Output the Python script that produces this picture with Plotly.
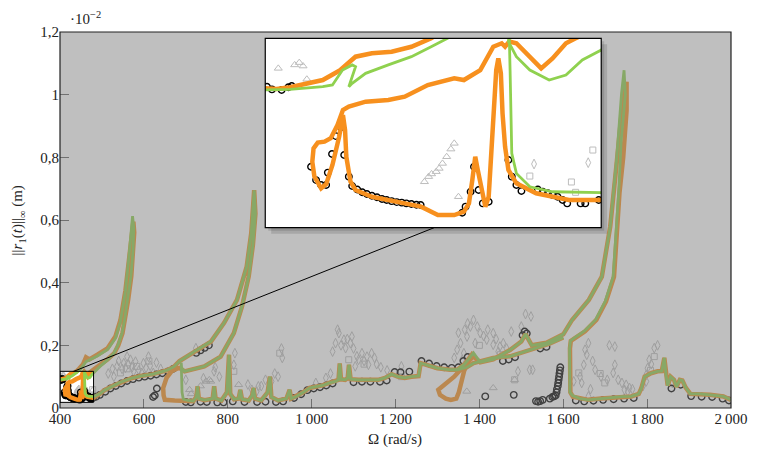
import plotly.graph_objects as go

# Omega in rad/s, amplitude in units of 1e-2 m

# green branch: start (inset zone), tongue 1, jump back to the low branch
g_start_x = [400.0, 405.9, 413.7, 416.0, 418.4, 420.7, 421.5, 419.9, 420.7, 423.9,
             429.3, 434.8, 439.5, 443.4, 450, 462, 489, 513, 532, 544,
             556, 564, 570, 573, 576, 574, 569, 561.5, 555, 548,
             538, 528.5, 512, 495, 485, 480, 475.5, 471.6, 467.6, 463.0,
             459.8, 457.9, 458.1, 458.3, 458.7, 459.8, 463.0, 468.4, 480]
g_start_y = [0.0900, 0.0903, 0.0917, 0.0926, 0.1004, 0.1031, 0.1022, 0.0917, 0.0935, 0.0987,
             0.1031, 0.1074, 0.1126, 0.117, 0.126, 0.148, 0.166, 0.186, 0.222, 0.275,
             0.372, 0.478, 0.572, 0.612, 0.575, 0.5, 0.42, 0.345, 0.29, 0.239,
             0.2, 0.175, 0.152, 0.132, 0.12, 0.1109, 0.1057, 0.0978, 0.0952, 0.1004,
             0.1074, 0.1153, 0.119, 0.1, 0.0569, 0.0464, 0.0394, 0.0368, 0.0363]

# orange branch: start, tongue 1, loop seen in the zoom
o_start_x = [400.0, 402.7, 405.9, 409.8, 413.7, 417.6, 421.5, 425.4, 430.1, 434.8, 439.5, 446,
             455, 462, 470, 489, 513, 532, 544, 556, 564, 570, 575, 577, 575, 570, 562.5,
             556, 549, 539, 529.5, 513, 496, 486, 480,
             476.2, 473.9, 471.6, 468.4, 465.7, 463.0, 459.8, 458.1, 457.1, 456.3, 454.3,
             451.2, 447.3, 445.0, 438.7, 433.2, 429.3, 423.9, 419.9,
             418.5, 417.2, 415.6, 414.1, 412.5, 411.5, 411.2, 411.7, 413.3, 414.5, 416.0, 417.6, 418.5,
             419.0, 419.3, 420.3, 421.5,
             425.4, 433.2, 437.1, 441.1, 445.0, 447.3, 448.5, 449.3, 450.0, 450.6, 451.2, 452.4,
             453.2, 453.7, 454.3, 455.0, 455.5, 456.1, 456.5, 457.1, 457.9, 459.8, 464.5, 472.3, 480]
o_start_y = [0.0909, 0.0905, 0.0914, 0.0931, 0.0952, 0.1000, 0.1074, 0.1092, 0.1100, 0.1126, 0.1170, 0.126,
             0.14, 0.162, 0.155, 0.17, 0.19, 0.228, 0.28, 0.375, 0.475, 0.55, 0.595, 0.56, 0.5, 0.42, 0.345,
             0.29, 0.239, 0.2, 0.175, 0.155, 0.14, 0.13, 0.123,
             0.1196, 0.117, 0.1144, 0.1065, 0.1013, 0.1074, 0.1144, 0.1153, 0.1126, 0.1144, 0.1126,
             0.1004, 0.0952, 0.0961, 0.0926, 0.0865, 0.0848, 0.0839, 0.0813,
             0.0795, 0.0717, 0.0648, 0.0630, 0.0625, 0.0595, 0.0525, 0.0447, 0.0386, 0.0408, 0.0508, 0.0656, 0.0769,
             0.0691, 0.0551, 0.0420, 0.0377,
             0.0342, 0.0307, 0.0290, 0.0246, 0.0246, 0.0264, 0.0307, 0.0429, 0.0551, 0.0482, 0.0412, 0.0290,
             0.0342, 0.0516, 0.0778, 0.1004, 0.1065, 0.0987, 0.0778, 0.0604, 0.0482, 0.0412, 0.0360, 0.0325, 0.0325]

low_x = [495, 505, 525, 544, 570, 591, 622, 654, 672, 685]
low_y = [0.045, 0.056, 0.07, 0.082, 0.095, 0.102, 0.108, 0.12, 0.132, 0.15]

# tongue 2
t2_x = [700, 720, 760, 791, 822, 845, 856, 863, 866, 860, 850, 834, 814.5, 783, 744, 697]
t2_y = [0.162, 0.18, 0.212, 0.271, 0.345, 0.45, 0.558, 0.695, 0.62, 0.52, 0.42, 0.324, 0.239, 0.164, 0.133, 0.117]

g_drop_x = [690, 689, 690, 691, 694]
g_drop_y = [0.128, 0.145, 0.1, 0.05, 0.028]
o_hook_x = [685, 676, 666, 654, 646, 647, 650, 673.5]
o_hook_y = [0.128, 0.124, 0.117, 0.096, 0.064, 0.04, 0.026, 0.024]

base1_x = [705, 718, 725, 728, 731, 745, 764, 767.6, 771, 785,
           798, 803, 806, 815, 826, 830, 834, 850, 858, 861.6,
           865, 880, 895, 900.6, 904, 920, 940, 947.6, 951, 963,
           980, 995, 1010, 1026, 1042, 1057, 1064, 1067, 1070, 1080,
           1086, 1089, 1093, 1112, 1140, 1159, 1175, 1191, 1205, 1222,
           1238, 1255, 1260, 1280, 1300, 1330, 1347]
base1_y = [0.024, 0.022, 0.035, 0.069, 0.03, 0.025, 0.03, 0.069, 0.03, 0.024,
           0.05, 0.17, 0.045, 0.028, 0.03, 0.058, 0.028, 0.024, 0.04, 0.064,
           0.03, 0.024, 0.05, 0.10, 0.035, 0.024, 0.03, 0.058, 0.03, 0.037,
           0.05, 0.064, 0.068, 0.072, 0.08, 0.085, 0.09, 0.142, 0.092, 0.09,
           0.095, 0.138, 0.092, 0.09, 0.09, 0.09, 0.096, 0.108, 0.1, 0.096,
           0.1, 0.102, 0.143, 0.135, 0.127, 0.122, 0.122]

g_cross_x = [1365, 1386]
g_cross_y = [0.14, 0.176]
o_loop_x = [1365, 1386, 1378, 1360, 1340, 1318, 1302, 1306, 1320, 1332, 1345, 1351, 1357, 1364, 1375, 1386]
o_loop_y = [0.14, 0.178, 0.16, 0.13, 0.1, 0.075, 0.058, 0.042, 0.03, 0.026, 0.03, 0.05, 0.085, 0.12, 0.15, 0.165]

upper_x = [1402, 1433, 1473, 1500, 1510, 1525, 1560, 1600, 1621, 1661, 1692, 1712]
upper_y = [0.146, 0.155, 0.185, 0.212, 0.236, 0.2, 0.208, 0.235, 0.281, 0.345, 0.419, 0.579]

# tongue 3 top and return
g_t3_x = [1727, 1739, 1745, 1748, 1738, 1732, 1719, 1700, 1677, 1650, 1625, 1617, 1615, 1615, 1616, 1622]
g_t3_y = [0.791, 1.004, 1.078, 1.0, 0.85, 0.685, 0.419, 0.34, 0.281, 0.245, 0.222, 0.214, 0.19, 0.1, 0.05, 0.04]
o_t3_x = [1728, 1742, 1751, 1751, 1743, 1734, 1721, 1702, 1679, 1652, 1627, 1618, 1616, 1616, 1617, 1623]
o_t3_y = [0.79, 0.98, 1.041, 0.95, 0.8, 0.685, 0.419, 0.34, 0.281, 0.245, 0.222, 0.214, 0.19, 0.1, 0.05, 0.036]

base2_x = [1640, 1660, 1690, 1715, 1740, 1762, 1780, 1786, 1794, 1809, 1825, 1835, 1841,
           1845, 1849, 1856, 1864, 1870, 1878, 1884, 1892, 1903, 1925, 1950, 1982, 2000]
base2_y = [0.03, 0.026, 0.03, 0.032, 0.036, 0.037, 0.045, 0.062, 0.10, 0.111, 0.117, 0.118, 0.16,
           0.105, 0.072, 0.1, 0.09, 0.068, 0.09, 0.088, 0.065, 0.045, 0.045, 0.042, 0.037, 0.026]

lower_x = [1347, 1370, 1386, 1433, 1473, 1520, 1567, 1600]
lower_y = [0.122, 0.13, 0.143, 0.16, 0.165, 0.185, 0.205, 0.225]

# reference points (black circles)
circ_x = [400.4, 401.6, 403.9, 405.5, 406.3, 410.9, 412.1, 413.3, 414.5, 414.9, 415.9, 416.8, 418.0,
          418.8, 419.9, 420.7, 421.9, 423.1, 424.2, 425.4, 426.6, 427.8, 428.9, 430.1, 431.3, 432.5,
          433.6, 434.8, 436.0, 437.0, 446.9, 447.7, 448.9, 449.7, 450.8, 451.8, 453.2,
          457.9, 458.7, 459.8, 461.0, 464.9, 466.1, 467.3, 468.4, 469.6, 470.8, 471.9, 475.1, 476.2, 479.4,
          486, 495, 508, 520, 533, 546, 560, 574, 588, 602, 616, 630, 644, 658, 670,
          622, 626, 631, 725, 735, 745, 755,
          700, 712, 735, 750, 775, 790, 812, 840, 870, 890, 915, 932, 958, 975, 990, 1005, 1020, 1035, 1050,
          1100, 1120, 1140, 1163, 1179, 1198, 1212, 1233, 1262, 1280, 1298, 1316, 1334, 1350,
          1362, 1372, 1456, 1470, 1485, 1503, 1508, 1513, 1545, 1560,
          1414, 1482, 1535, 1540, 1545, 1551, 1568, 1574, 1578,
          1582, 1584, 1585, 1587, 1588, 1589, 1590, 1591, 1592, 1593,
          1630, 1650, 1672, 1695, 1720, 1745, 1768, 1858, 1880, 1905, 1930, 1955, 1980, 1995]
circ_y = [0.0917, 0.0903, 0.0900, 0.0914, 0.0921, 0.0499, 0.0429, 0.0403, 0.0403, 0.0468, 0.0565, 0.0659, 0.0705,
          0.0560, 0.0447, 0.0398, 0.0380, 0.0365, 0.0356, 0.0347, 0.0339, 0.0330, 0.0325, 0.0319, 0.0314, 0.0311,
          0.0307, 0.0304, 0.0300, 0.0299, 0.0258, 0.0290, 0.0368, 0.0499, 0.0377, 0.0307, 0.0316,
          0.0534, 0.0447, 0.0403, 0.0372, 0.0380, 0.0368, 0.0360, 0.0351, 0.0342, 0.0325, 0.0307, 0.0307, 0.0307, 0.0325,
          0.036, 0.042, 0.052, 0.062, 0.07, 0.078, 0.086, 0.092, 0.097, 0.1, 0.103, 0.107, 0.111, 0.117, 0.125,
          0.035, 0.04, 0.062, 0.176, 0.184, 0.192, 0.2,
          0.019, 0.018, 0.02, 0.019, 0.018, 0.018, 0.021, 0.019, 0.019, 0.02, 0.019, 0.021, 0.032, 0.044, 0.057, 0.062, 0.066, 0.072, 0.078,
          0.082, 0.084, 0.084, 0.084, 0.088, 0.115, 0.114, 0.116, 0.15, 0.142, 0.134, 0.13, 0.128, 0.13,
          0.15, 0.163, 0.15, 0.155, 0.162, 0.232, 0.244, 0.238, 0.19, 0.195,
          0.037, 0.042, 0.022, 0.02, 0.022, 0.026, 0.03, 0.035, 0.037,
          0.04, 0.05, 0.06, 0.07, 0.08, 0.09, 0.1, 0.11, 0.12, 0.13,
          0.024, 0.021, 0.023, 0.026, 0.028, 0.03, 0.032, 0.062, 0.074, 0.038, 0.036, 0.035, 0.03, 0.024]

# other reference points (light grey)
tri_x = [403.1, 407.0, 408.1, 409.0, 409.9, 437.9, 438.9, 439.6, 440.7, 441.4, 442.2, 443.2, 444.2, 445.0, 446.0,
         709, 713, 735, 748, 756, 759.5, 826, 1370, 1433, 1484]
tri_y = [0.1013, 0.1031, 0.1043, 0.1025, 0.0956, 0.0420, 0.0447, 0.0461, 0.0473, 0.0490, 0.0516, 0.0551, 0.0591, 0.0621, 0.0342,
         0.058, 0.045, 0.07, 0.085, 0.09, 0.085, 0.074, 0.053, 0.064, 0.09]
sq_x = [463.0, 472.9, 473.9, 478.0, 544, 583, 814.5, 924, 1088.5, 1214, 1484, 1637, 1699, 1817,
        560, 612, 1125, 1400, 1450, 1688, 1808]
sq_y = [0.0450, 0.0419, 0.0365, 0.0586, 0.112, 0.133, 0.117, 0.175, 0.154, 0.10, 0.09, 0.112, 0.08, 0.164,
        0.125, 0.15, 0.14, 0.2, 0.17, 0.11, 0.12]
dia_x = [464.0, 476.9, 528.5, 536, 552, 560, 568, 575.5, 595, 599, 611, 622.5,
         724, 767.5, 814.5, 817, 857.5, 869, 873, 904.5, 920,
         1010, 1034, 1057, 1065, 1077, 1081, 1092.5, 1096, 1104, 1112, 1120, 1132, 1135.5, 1143, 1214,
         1347, 1355, 1359, 1363, 1370.6, 1378.5, 1386, 1390, 1402, 1417.5, 1433, 1433, 1449, 1457, 1476,
         1492, 1520, 1523, 1527, 1625, 1644, 1649, 1652, 1656, 1660, 1660, 1676,
         1719, 1723, 1723, 1731, 1746, 1750, 1754, 1758, 1798, 1798, 1801, 1805, 1817,
         515, 525, 540, 548, 556, 563, 572, 580, 588, 605, 615, 630, 640,
         700, 742, 770, 780, 848, 880, 890, 912, 930, 928,
         1045, 1050, 1062, 1070, 1085, 1100, 1108, 1125, 1150, 1155, 1165, 1180,
         1340, 1350, 1365, 1372, 1395, 1410, 1420, 1440, 1445, 1465, 1500, 1510,
         1640, 1665, 1670, 1690, 1705, 1710, 1740, 1765, 1790, 1810, 1825, 1860]
dia_y = [0.0513, 0.0520, 0.10, 0.133, 0.143, 0.164, 0.154, 0.117, 0.112, 0.143, 0.164, 0.112,
         0.191, 0.117, 0.138, 0.175, 0.058, 0.053, 0.069, 0.085, 0.10,
         0.08, 0.096, 0.207, 0.239, 0.218, 0.191, 0.207, 0.228, 0.133, 0.154, 0.175, 0.164, 0.138, 0.175, 0.133,
         0.186, 0.207, 0.154, 0.175, 0.228, 0.26, 0.281, 0.207, 0.239, 0.218, 0.202, 0.239, 0.196, 0.207, 0.244,
         0.117, 0.122, 0.292, 0.122, 0.085, 0.08, 0.138, 0.186, 0.17, 0.207, 0.037, 0.122,
         0.112, 0.196, 0.138, 0.09, 0.058, 0.074, 0.053, 0.064, 0.106, 0.085, 0.127, 0.154, 0.191,
         0.11, 0.125, 0.15, 0.125, 0.128, 0.14, 0.13, 0.148, 0.12, 0.128, 0.135, 0.145, 0.125,
         0.09, 0.095, 0.13, 0.1, 0.075, 0.07, 0.09, 0.11, 0.16, 0.19,
         0.11, 0.18, 0.25, 0.2, 0.22, 0.19, 0.165, 0.15, 0.16, 0.14, 0.13, 0.12,
         0.16, 0.24, 0.25, 0.27, 0.26, 0.23, 0.25, 0.22, 0.18, 0.19, 0.26, 0.3,
         0.1, 0.06, 0.15, 0.1, 0.09, 0.2, 0.08, 0.06, 0.07, 0.14, 0.2, 0.08]

x_ticks = [400, 600, 800, 1000, 1200, 1400, 1600, 1800, 2000]
x_labels = ["400", "600", "800", "1\u2009000", "1\u2009200", "1\u2009400", "1\u2009600", "1\u2009800", "2\u2009000"]
y_ticks = [0, 0.2, 0.4, 0.6, 0.8, 1.0, 1.2]
y_labels = ["0", "0,2", "0,4", "0,6", "0,8", "1", "1,2"]


def chain(*segs):
    xs, ys = [], []
    for sx, sy in segs:
        xs += list(sx)
        ys += list(sy)
    return xs, ys


gx, gy = chain((g_start_x, g_start_y), (low_x, low_y), (t2_x, t2_y), (g_drop_x, g_drop_y),
               (base1_x, base1_y), (g_cross_x, g_cross_y), (upper_x, upper_y),
               (g_t3_x, g_t3_y), (base2_x, base2_y), ([None], [None]), (lower_x, lower_y))
ox, oy = chain((o_start_x, o_start_y), (low_x, low_y), (t2_x, t2_y), (o_hook_x, o_hook_y),
               (base1_x, base1_y), (o_loop_x, o_loop_y), (upper_x, upper_y),
               (o_t3_x, o_t3_y), (base2_x, base2_y), ([None], [None]), (lower_x, lower_y))

ORANGE = "#f7901e"
GREEN = "#8fd14f"
LGREY = "#bdbdbd"

fig = go.Figure()
for xa, ya in [("x", "y"), ("x2", "y2")]:
    fig.add_trace(go.Scatter(x=tri_x, y=tri_y, mode="markers", xaxis=xa, yaxis=ya,
                             marker=dict(symbol="triangle-up-open", size=7, color=LGREY, line=dict(width=1))))
    fig.add_trace(go.Scatter(x=sq_x, y=sq_y, mode="markers", xaxis=xa, yaxis=ya,
                             marker=dict(symbol="square-open", size=6, color=LGREY, line=dict(width=1))))
    fig.add_trace(go.Scatter(x=dia_x, y=dia_y, mode="markers", xaxis=xa, yaxis=ya,
                             marker=dict(symbol="diamond-tall-open", size=7, color=LGREY, line=dict(width=1))))
    fig.add_trace(go.Scatter(x=circ_x, y=circ_y, mode="markers", xaxis=xa, yaxis=ya,
                             marker=dict(symbol="circle-open", size=6.5, color="black", line=dict(width=1.4))))
    fig.add_trace(go.Scatter(x=ox, y=oy, mode="lines", xaxis=xa, yaxis=ya,
                             line=dict(color=ORANGE, width=4.5)))
    fig.add_trace(go.Scatter(x=gx, y=gy, mode="lines", xaxis=xa, yaxis=ya,
                             line=dict(color=GREEN, width=2.8)))

# geometry of the zoom box and inset (paper units of the main plot area)
bx1, by0, by1 = 0.05, 0.015, 0.0975
ix0, ix1, iy0, iy1 = 0.3059, 0.8066, 0.4795, 0.9832
dx, dy = 6 / 681, 6 / 376

overlay = (f"M0,0 L1,0 L1,1 L0,1 Z "
           f"M0,{by0} L0,{by1} L{bx1},{by1} L{bx1},{by0} Z "
           f"M{ix0},{iy0} L{ix0},{iy1} L{ix1},{iy1} L{ix1},{iy0} Z")
shadow = (f"M{ix1},{iy1 - dy} L{ix1 + dx},{iy1 - dy} L{ix1 + dx},{iy0 - dy} "
          f"L{ix0 + dx},{iy0 - dy} L{ix0 + dx},{iy0} L{ix1},{iy0} Z")
shadow2 = (f"M{ix1},{iy1 - dy / 2} L{ix1 + dx / 2},{iy1 - dy / 2} L{ix1 + dx / 2},{iy0 - dy / 2} "
           f"L{ix0 + dx / 2},{iy0 - dy / 2} L{ix0 + dx / 2},{iy0} L{ix1},{iy0} Z")

fig.update_layout(shapes=[
    dict(type="path", xref="paper", yref="paper", path=overlay, fillrule="evenodd",
         fillcolor="rgba(128,128,128,0.5)", line=dict(width=0), layer="above"),
    dict(type="path", xref="paper", yref="paper", path=shadow,
         fillcolor="rgba(0,0,0,0.12)", line=dict(width=0), layer="above"),
    dict(type="path", xref="paper", yref="paper", path=shadow2,
         fillcolor="rgba(0,0,0,0.12)", line=dict(width=0), layer="above"),
    dict(type="rect", xref="paper", yref="paper", x0=0, x1=1, y0=0, y1=1,
         line=dict(color="#222", width=1.2), layer="above"),
    dict(type="rect", xref="paper", yref="paper", x0=ix0, x1=ix1, y0=iy0, y1=iy1,
         line=dict(color="black", width=1.2), layer="above"),
    dict(type="rect", xref="x", yref="y", x0=400, x1=480, y0=0.018, y1=0.117,
         line=dict(color="black", width=1), layer="above"),
    dict(type="line", xref="x", yref="y", x0=432, y0=0.1166, x1=1292, y1=0.5754,
         line=dict(color="black", width=1), layer="above"),
])

# page body has an 8px margin: the figure is sized so the plot area lands at 60..741 x 32..408
font = dict(family="Liberation Serif", size=15, color="#222")
fig.update_layout(
    width=752, height=442,
    margin=dict(l=52, r=19, t=24, b=42),
    paper_bgcolor="white", plot_bgcolor="white",
    showlegend=False,
    font=font,
    xaxis=dict(domain=[0, 1], range=[400, 2000], tickvals=x_ticks, ticktext=x_labels,
               ticks="inside", ticklen=9, tickcolor="#606060", tickwidth=1,
               ticklabeloverflow="allow",
               showgrid=False, zeroline=False, showline=False, tickfont=font),
    yaxis=dict(domain=[0, 1], range=[0, 1.2], tickvals=y_ticks, ticktext=y_labels,
               ticks="inside", ticklen=9, tickcolor="#606060", tickwidth=1,
               ticklabeloverflow="allow",
               showgrid=False, zeroline=False, showline=False, tickfont=font),
    xaxis2=dict(domain=[ix0, ix1], anchor="y2", range=[400, 480], showticklabels=False,
                ticks="", showgrid=False, zeroline=False, showline=False),
    yaxis2=dict(domain=[iy0, iy1], anchor="x2", range=[0.018, 0.117], showticklabels=False,
                ticks="", showgrid=False, zeroline=False, showline=False),
    annotations=[
        dict(text="\u00b710<sup>\u22122</sup>", xref="paper", yref="paper", x=0.012, y=1.036,
             xanchor="left", yanchor="middle", showarrow=False, font=font),
        dict(text="\u03a9 (rad/s)", xref="paper", yref="paper", x=0.499, y=-0.085,
             xanchor="center", yanchor="middle", showarrow=False, font=font),
        dict(text="||<i>r</i><sub>1</sub>(<i>t</i>)||<sub>\u221e</sub> (m)", xref="paper", yref="paper",
             x=-0.062, y=0.5, textangle=-90, xanchor="center", yanchor="middle",
             showarrow=False, font=font),
    ],
)

fig.write_html("out.html")
